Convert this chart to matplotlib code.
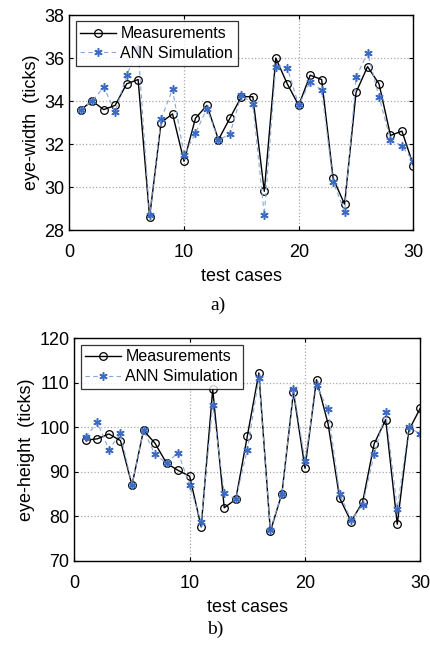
import numpy as np
import matplotlib.pyplot as plt

plt.rcParams['font.family'] = ['Liberation Sans', 'DejaVu Sans']

cases = np.arange(1, 31)

width_meas = [33.6, 34.0, 33.6, 33.8, 34.8, 35.0, 28.6, 33.0, 33.4, 31.2,
              33.2, 33.8, 32.2, 33.2, 34.2, 34.2, 29.8, 36.0, 34.8, 33.8,
              35.2, 35.0, 30.4, 29.2, 34.4, 35.6, 34.8, 32.4, 32.6, 31.0]
width_ann = [33.6, 34.0, 34.65, 33.5, 35.2, 36.4, 28.7, 33.15, 34.55, 31.5,
             32.5, 33.65, 32.2, 32.45, 34.3, 33.85, 28.7, 35.6, 35.55, 33.8,
             34.9, 34.5, 30.25, 28.85, 35.1, 36.25, 34.2, 32.2, 31.9, 31.2]

height_meas = [97.1, 97.4, 98.5, 97.0, 87.0, 99.3, 96.4, 91.9, 90.3, 89.0,
               77.6, 108.5, 81.9, 83.8, 98.0, 112.2, 76.6, 85.1, 107.9, 90.8,
               110.7, 100.8, 84.1, 78.8, 83.2, 96.3, 101.7, 78.2, 99.3, 104.3]
height_ann = [97.8, 101.1, 95.0, 98.6, 87.0, 99.3, 93.9, 91.9, 94.3, 87.0,
              78.7, 105.0, 85.3, 83.8, 95.0, 111.0, 77.0, 85.1, 108.5, 92.5,
              109.4, 104.0, 85.1, 79.1, 82.6, 93.9, 103.4, 81.7, 100.0, 98.5]

blue = '#3d6bc0'
lblue = '#8aa6da'


def panel(ax, meas, ann, ylim, yticks, ylabel):
    ax.plot(cases, meas, 'k-', marker='o', markersize=5.5, markerfacecolor='none',
            markeredgewidth=0.9, linewidth=1.0, label='Measurements')
    ax.plot(cases, ann, linestyle=(0, (4, 3)), color=lblue, linewidth=0.8,
            marker=(6, 2, 0), markersize=6, markeredgewidth=1.1,
            markerfacecolor=blue, markeredgecolor=blue, label='ANN Simulation')
    ax.set_xlim(0, 30)
    ax.set_ylim(*ylim)
    ax.set_xticks([0, 10, 20, 30])
    ax.set_yticks(yticks)
    ax.grid(True, color='#a8a8a8', linestyle=':', linewidth=0.9)
    ax.tick_params(direction='in', length=3, labelsize=13, right=True, top=True)
    ax.tick_params(axis='x', pad=10)
    ax.set_ylabel(ylabel, fontsize=13, labelpad=3)
    ax.set_xlabel('test cases', fontsize=13, labelpad=5)
    for s in ax.spines.values():
        s.set_linewidth(1.0)
    leg = ax.legend(loc='upper left', fontsize=11.5, frameon=True, fancybox=False,
                    edgecolor='k', handlelength=2.2, handletextpad=0.3,
                    borderpad=0.3, labelspacing=0.3, borderaxespad=0.4)
    leg.get_frame().set_linewidth(0.9)


fig = plt.figure(figsize=(4.31, 6.45), dpi=100)
ax1 = fig.add_axes([0.1608, 0.6434, 0.7984, 0.3333])
ax2 = fig.add_axes([0.1724, 0.1307, 0.8028, 0.3448])

panel(ax1, width_meas, width_ann, (28, 38), [28, 30, 32, 34, 36, 38],
      'eye-width  (ticks)')
panel(ax2, height_meas, height_ann, (70, 120), [70, 80, 90, 100, 110, 120],
      'eye-height  (ticks)')

fig.text(0.505, 0.527, 'a)', ha='center', va='center', fontsize=14,
         family='Liberation Serif')
fig.text(0.5, 0.024, 'b)', ha='center', va='center', fontsize=14,
         family='Liberation Serif')

fig.savefig('out.png', dpi=100)
